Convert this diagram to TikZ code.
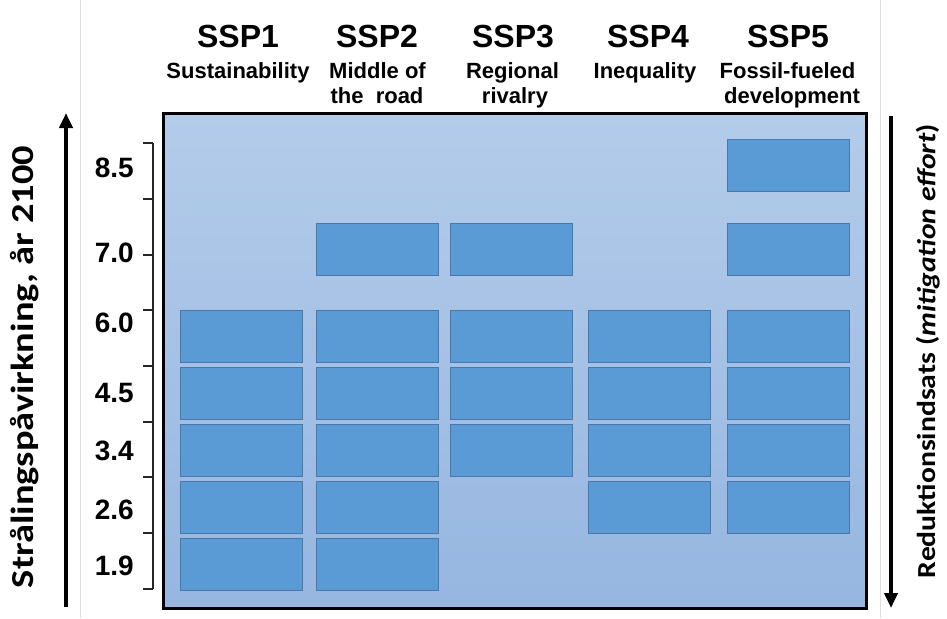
\documentclass[tikz,border=0pt]{standalone}
\usepackage{fontspec}
\setmainfont{Liberation Sans}
\newfontfamily\calfont{Carlito}
\usetikzlibrary{arrows.meta}
\definecolor{boxfill}{HTML}{5B9BD5}
\definecolor{boxline}{HTML}{4A78A8}
\definecolor{bgtop}{HTML}{B4CCEA}
\definecolor{bgbot}{HTML}{96B6E0}
\tikzset{
  scen/.style={draw=boxline, line width=0.6pt, fill=boxfill, minimum width=122pt, minimum height=52pt, inner sep=0pt},
  ssphead/.style={font=\bfseries\fontsize{32}{32}\selectfont, inner sep=0pt, anchor=base},
  sspsub/.style={font=\bfseries\fontsize{22}{22}\selectfont, anchor=base, inner sep=0pt},
  rflabel/.style={font=\bfseries\fontsize{28}{28}\selectfont, anchor=east, inner sep=0pt},
  bigarrow/.style={line width=4pt, -{Triangle[width=13pt,length=15pt]}},
  sidelabel/.style={rotate=90, inner sep=0pt},
  faint/.style={draw=black!12, line width=0.8pt}
}
\begin{document}
\begin{tikzpicture}[x=1pt,y=-1pt]
\useasboundingbox[fill=white] (0,0) rectangle (947,618);
% faint page edges
\coordinate (fl1) at (80,0); \coordinate (fl2) at (80,618);
\coordinate (fr1) at (880,0); \coordinate (fr2) at (880,618);
\draw[faint] (fl1) -- (fl2);
\draw[faint] (fr1) -- (fr2);
% frame
\node[draw=black, line width=3pt, top color=bgtop, bottom color=bgbot, minimum width=703pt, minimum height=495pt, inner sep=0pt] (frame) at (514.5,360.5) {};
% scenario boxes
\node[scen] (b5-85) at (788,165) {};
\node[scen] (b2-70) at (377.5,249) {};
\node[scen] (b3-70) at (511,249) {};
\node[scen] (b5-70) at (788,249) {};
\foreach \c/\x in {1/241,2/377.5,3/511,4/649,5/788}{
  \node[scen] (b\c-60) at (\x,336) {};
  \node[scen] (b\c-45) at (\x,393) {};
  \node[scen] (b\c-34) at (\x,450) {};
}
\foreach \c/\x in {1/241,2/377.5,4/649,5/788}{
  \node[scen] (b\c-26) at (\x,507.5) {};
}
\foreach \c/\x in {1/241,2/377.5}{
  \node[scen] (b\c-19) at (\x,564) {};
}
% headers
\node[ssphead] (h1) at (238,48) {SSP1};
\node[ssphead] (h2) at (377,48) {SSP2};
\node[ssphead] (h3) at (513,48) {SSP3};
\node[ssphead] (h4) at (648,48) {SSP4};
\node[ssphead] (h5) at (788,48) {SSP5};
\node[sspsub] (s1) at (238,78) {Sustainability};
\node[sspsub] (s2a) at (377.5,78) {Middle of};
\node[sspsub] (s2b) at (377,103) {the~~road};
\node[sspsub] (s3a) at (512.5,78) {Regional};
\node[sspsub] (s3b) at (515,103) {rivalry};
\node[sspsub] (s4) at (645,78) {Inequality};
\node[sspsub] (s5a) at (787.5,78) {Fossil-fueled};
\node[sspsub] (s5b) at (792,103) {development};
% bracket axis
\coordinate (ax1) at (153,143);
\coordinate (ax9) at (153,589);
\draw[line width=1.2pt, black!85] (ax1) -- (ax9);
\foreach \y in {143,199,255,310,366,422,477,533,589}{
  \draw[line width=1.2pt, black!85] (143,\y) -- (153,\y);
}
\node[rflabel] (r85) at (134,168) {8.5};
\node[rflabel] (r70) at (134,253) {7.0};
\node[rflabel] (r60) at (134,323) {6.0};
\node[rflabel] (r45) at (134,393) {4.5};
\node[rflabel] (r34) at (134,451) {3.4};
\node[rflabel] (r26) at (134,510) {2.6};
\node[rflabel] (r19) at (134,566) {1.9};
% side arrows
\coordinate (la1) at (66,607); \coordinate (la2) at (66,113);
\draw[bigarrow] (la1) -- (la2);
\coordinate (ra1) at (891,116); \coordinate (ra2) at (891,608);
\draw[bigarrow] (ra1) -- (ra2);
\node[sidelabel, font=\calfont\bfseries\fontsize{32}{32}\selectfont] (ll) at (25,367) {\scalebox{1.2}[1]{Strålingspåvirkning, år 2100}};
\node[sidelabel, font=\calfont\bfseries\fontsize{26}{26}\selectfont] (rl) at (928,351) {\scalebox{1.14}[1]{Reduktionsindsats (\textit{mitigation effort})}};
\end{tikzpicture}
\end{document}
